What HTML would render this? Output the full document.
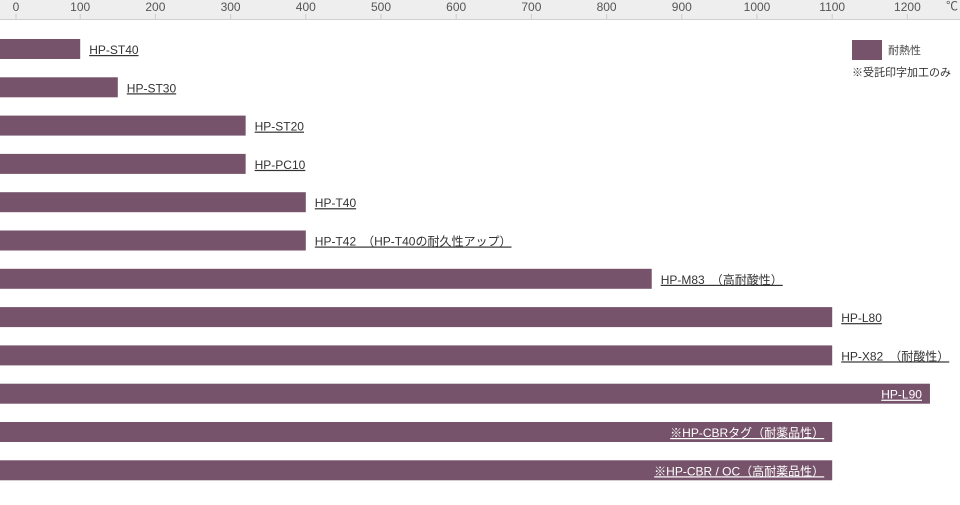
<!DOCTYPE html>
<html><head><meta charset="utf-8"><style>
body{margin:0;background:#fff;width:960px;height:500px;overflow:hidden;font-family:"Liberation Sans","Noto Sans CJK JP",sans-serif;}
svg text{font-family:"Liberation Sans","Noto Sans CJK JP",sans-serif;}
</style></head><body>
<svg id="chart" width="960" height="500" xmlns="http://www.w3.org/2000/svg">
<rect x="0" y="0" width="960" height="19" fill="#eeeeee"/>
<line x1="0" y1="19.5" x2="960" y2="19.5" stroke="#cfcfcf"/>
<g id="axis"></g>
<g id="bars"></g>
<text x="946" y="10" font-size="12" fill="#555">℃</text>
<rect x="852" y="40" width="30" height="20" fill="#76536a"/>
<text x="888" y="54" font-size="11" fill="#444">耐熱性</text>
<text x="852" y="76" font-size="11" fill="#333">※受託印字加工のみ</text>
</svg>
<script>
const categories=["HP-ST40","HP-ST30","HP-ST20","HP-PC10","HP-T40","HP-T42　（HP-T40の耐久性アップ）","HP-M83　（高耐酸性）","HP-L80","HP-X82　（耐酸性）","HP-L90","※HP-CBRタグ（耐薬品性）","※HP-CBR / OC（高耐薬品性）"];
const values=[100,150,320,320,400,400,860,1100,1100,1230,1100,1100];
const insideLabel=[false,false,false,false,false,false,false,false,false,true,true,true];
const tickValues=[0,100,200,300,400,500,600,700,800,900,1000,1100,1200];
const NS="http://www.w3.org/2000/svg";
const xs=v=>5+v*0.752;
const ys=i=>39+i*38.3;
const axis=document.getElementById('axis'),bars=document.getElementById('bars');
tickValues.forEach(t=>{
 const x=xs(t)+(t===0?11:0);
 const l=document.createElementNS(NS,'line');
 
 
 l.setAttribute('x1',x);l.setAttribute('x2',x);l.setAttribute('y1',14);l.setAttribute('y2',19);l.setAttribute('stroke','#ccc');
 axis.appendChild(l);
 const tx=document.createElementNS(NS,'text');
 
 
 tx.setAttribute('x',x);tx.setAttribute('y',11);tx.setAttribute('text-anchor','middle');tx.setAttribute('font-size','12');tx.setAttribute('fill','#555');
 tx.textContent=t;axis.appendChild(tx);
});
categories.forEach((c,i)=>{
 const w=xs(values[i]),y=ys(i);
 const r=document.createElementNS(NS,'rect');
 
 
 r.setAttribute('x',0);r.setAttribute('y',y);r.setAttribute('width',w);r.setAttribute('height',20);r.setAttribute('fill','#76536a');
 bars.appendChild(r);
 const tx=document.createElementNS(NS,'text');
 
 
 tx.setAttribute('y',y+15);tx.setAttribute('font-size','12');tx.setAttribute('text-decoration','underline');
 if(insideLabel[i]){tx.setAttribute('x',w-8);tx.setAttribute('text-anchor','end');tx.setAttribute('fill','#fff');}
 else{tx.setAttribute('x',w+9);tx.setAttribute('fill','#333');}
 tx.textContent=c;bars.appendChild(tx);
});
</script>
</body></html>
